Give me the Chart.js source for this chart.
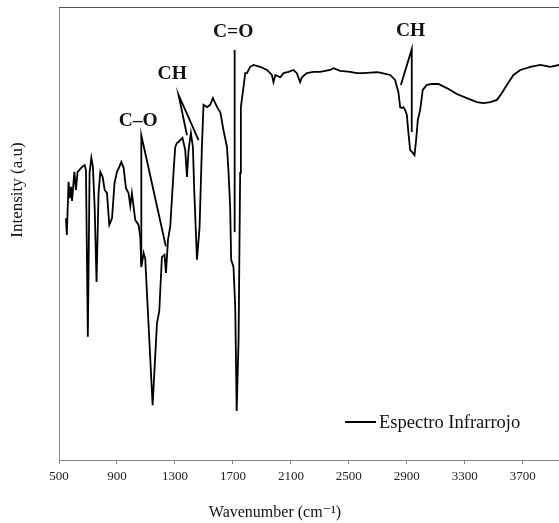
<!DOCTYPE html>
<html>
<head>
<meta charset="utf-8">
<script src="https://cdn.jsdelivr.net/npm/chart.js@4"></script>
<style>
  html, body { margin: 0; padding: 0; background: #fff; }
  canvas { display: block; }
</style>
</head>
<body>
<canvas id="irChart" width="559" height="523"></canvas>
<script>
// spectrum (wavenumber in cm-1, intensity in arbitrary units 0-100)
const wavenumber = [548, 554, 566, 574, 583, 590, 606, 617, 628, 640, 659, 677, 686, 699, 711, 723, 734, 746, 759, 773,
  785, 801, 815, 831, 847, 866, 883, 900, 916, 930, 946, 962, 980, 992, 1003, 1026, 1049, 1061, 1068, 1084,
  1095, 1146, 1176, 1192, 1210, 1228, 1238, 1252, 1268, 1290, 1302, 1314, 1325, 1337, 1352, 1371, 1383, 1394, 1410, 1424,
  1433, 1452, 1470, 1486, 1497, 1521, 1543, 1562, 1578, 1601, 1613, 1635, 1659, 1670, 1681, 1688, 1704, 1716, 1726, 1739,
  1750, 1755, 1773, 1785, 1797, 1819, 1842, 1888, 1935, 1969, 1980, 1993, 2027, 2049, 2084, 2118, 2141, 2164, 2176, 2210,
  2256, 2302, 2371, 2394, 2440, 2509, 2555, 2601, 2647, 2693, 2716, 2785, 2819, 2842, 2854, 2866, 2877, 2888, 2900, 2911,
  2923, 2941, 2953, 2964, 2976, 2992, 3010, 3038, 3073, 3118, 3176, 3245, 3314, 3383, 3429, 3476, 3522, 3556, 3590, 3636,
  3683, 3752, 3821, 3890, 3952];
const intensity = [53.4, 49.7, 61.4, 57.8, 60.3, 57.2, 63.6, 59.6, 63.6, 64.0, 64.7, 65.1, 64.0, 27.2, 63.4, 66.7, 64.7, 55.8, 39.3, 58.9,
  63.6, 62.5, 59.6, 58.9, 51.9, 53.4, 61.1, 63.6, 64.7, 65.8, 64.5, 60.0, 58.9, 56.1, 58.9, 53.0, 51.9, 49.2, 42.6, 45.7,
  44.4, 12.1, 30.2, 32.9, 44.8, 45.3, 41.3, 48.6, 51.7, 63.4, 69.1, 70.0, 70.2, 70.6, 71.1, 68.4, 62.5, 68.4, 72.2, 69.1,
  59.6, 44.2, 51.4, 69.1, 78.4, 77.9, 78.4, 79.9, 78.8, 77.3, 76.8, 72.8, 69.1, 63.4, 55.8, 44.2, 42.6, 33.8, 10.8, 26.5,
  63.4, 77.9, 82.3, 85.4, 85.4, 86.8, 87.2, 86.8, 86.1, 85.0, 83.4, 85.0, 84.5, 85.4, 85.7, 86.1, 85.4, 83.4, 84.5, 85.4,
  85.7, 85.7, 86.1, 86.5, 85.9, 85.7, 85.4, 85.4, 85.5, 85.6, 85.5, 85.0, 83.9, 81.2, 77.9, 77.7, 77.9, 77.3, 76.2, 72.2,
  68.4, 67.8, 67.3, 70.6, 75.1, 77.3, 81.7, 82.8, 83.0, 83.0, 82.1, 80.8, 79.9, 79.0, 78.8, 79.0, 79.5, 81.0, 82.8, 85.0,
  86.1, 86.8, 87.2, 86.8, 87.2];

const xTicks = [500, 900, 1300, 1700, 2100, 2500, 2900, 3300, 3700];

// band assignments: label text, where the label sits, and the pointer lines (wavenumber, intensity)
const bandNames = ["C–O", "CH", "C=O", "CH"];
const bandLabelX = [1047, 1281, 1702, 2926];
const bandLabelY = [74.8, 85.2, 94.4, 94.6];
const bandPointerX = [[1068, 1068, 1237], [1383, 1325, 1463], [1712, 1712], [2859, 2934, 2934]];
const bandPointerY = [[43.0, 71.7, 47.2], [71.7, 80.6, 70.6], [50.3, 90.5], [82.8, 90.7, 72.4]];

const xTitle = "Wavenumber (cm⁻¹)";
const yTitle = "Intensity (a.u)";

const serif = '"Liberation Serif", "DejaVu Serif", serif';

const spectrum = {
  label: "Espectro Infrarrojo",
  data: wavenumber.map((w, i) => ({ x: w, y: intensity[i] })),
  borderColor: "#000",
  borderWidth: 1.8,
  pointRadius: 0,
  tension: 0
};

const pointers = bandPointerX.map((xs, k) => ({
  label: "_" + bandNames[k],
  data: xs.map((w, i) => ({ x: w, y: bandPointerY[k][i] })),
  borderColor: "#000",
  borderWidth: 1.8,
  pointRadius: 0,
  tension: 0
}));

const irDecor = {
  id: "irDecor",
  afterDatasetsDraw(chart) {
    const { ctx, chartArea, scales: { x, y } } = chart;
    ctx.save();
    // top frame line
    ctx.strokeStyle = "#555";
    ctx.lineWidth = 1;
    ctx.beginPath();
    ctx.moveTo(chartArea.left, chartArea.top + 0.5);
    ctx.lineTo(chartArea.right, chartArea.top + 0.5);
    ctx.stroke();

    // band labels
    ctx.font = "bold 19.5px " + serif;
    ctx.fillStyle = "#111";
    ctx.textAlign = "center";
    ctx.textBaseline = "middle";
    bandNames.forEach((t, i) => {
      ctx.fillText(t, x.getPixelForValue(bandLabelX[i]), y.getPixelForValue(bandLabelY[i]));
    });

    // legend inside the plot, bottom right
    const lx = chartArea.left + 286, ly = chartArea.bottom - 38;
    ctx.strokeStyle = "#000";
    ctx.lineWidth = 2;
    ctx.beginPath();
    ctx.moveTo(lx, ly);
    ctx.lineTo(lx + 31, ly);
    ctx.stroke();
    ctx.font = "18.5px " + serif;
    ctx.textAlign = "left";
    ctx.fillText(spectrum.label, lx + 34, ly + 1);

    // axis titles (sit off-centre in the original)
    ctx.textAlign = "center";
    ctx.font = "16px " + serif;
    ctx.fillText(xTitle, chartArea.left + 216, chartArea.bottom + 53);
    ctx.translate(18, chartArea.top + 183);
    ctx.rotate(-Math.PI / 2);
    ctx.font = "17px " + serif;
    ctx.fillText(yTitle, 0, 0);
    ctx.restore();
  }
};

const irChart = new Chart(document.getElementById("irChart"), {
  type: "line",
  data: { datasets: [spectrum, ...pointers] },
  options: {
    responsive: false,
    animation: false,
    layout: { padding: { top: 7, right: 0, bottom: 0, left: 0 } },
    plugins: { legend: { display: false }, tooltip: { enabled: false } },
    scales: {
      x: {
        type: "linear",
        min: 500,
        max: 3950,
        afterBuildTicks: s => { s.ticks = xTicks.map(v => ({ value: v })); },
        afterFit: s => { s.height = 63; },
        grid: { display: true, drawOnChartArea: false, drawTicks: true, tickLength: 4, color: "#888" },
        border: { color: "#888", width: 1 },
        ticks: {
          font: { family: serif, size: 13 }, color: "#222", padding: 5, maxRotation: 0, autoSkip: false,
          callback: v => String(v)
        }
      },
      y: {
        min: 0,
        max: 100,
        afterFit: s => { s.width = 59; },
        grid: { display: false },
        border: { color: "#888", width: 1 },
        ticks: { display: false }
      }
    }
  },
  plugins: [irDecor]
});
</script>
</body>
</html>
